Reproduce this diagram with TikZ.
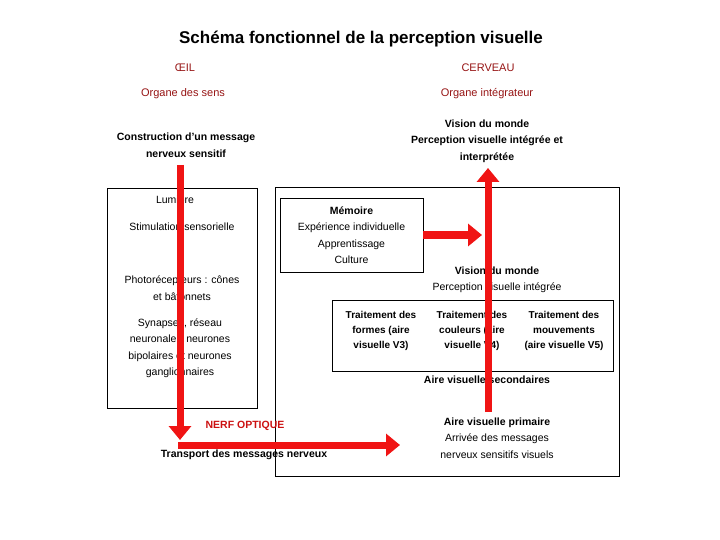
\documentclass[tikz,border=0pt]{standalone}
\usepackage{fontspec}
\setmainfont{Liberation Sans}
\usetikzlibrary{arrows.meta,positioning}
\definecolor{redarrow}{RGB}{240,20,20}
\definecolor{darkred}{RGB}{150,20,20}

\begin{document}
\begin{tikzpicture}[
    x=1pt, y=-1pt,
    txt/.style={align=center, font=\fontsize{10.5}{16.5}\selectfont},
    bold/.style={txt, font=\fontsize{10.5}{16.5}\selectfont\bfseries},
    head/.style={align=center, text=darkred, font=\fontsize{11}{15}\selectfont},
    frame/.style={draw, line width=0.8pt},
    bigarrow/.style={-{Triangle[width=22pt,length=14pt]}, line width=7pt, draw=redarrow}
]
    \useasboundingbox (0,0) rectangle (720,540);
    % titles
    \node[font=\fontsize{17}{20}\selectfont\bfseries] (title) at (361,39) {Schéma fonctionnel de la perception visuelle};
    \node[head] (oeil) at (185,68) {ŒIL};
    \node[head] (cerveau) at (488,68) {CERVEAU};
    \node[head] (sens) at (183,94) {Organe des sens};
    \node[head] (integr) at (487,94) {Organe intégrateur};
    \node[bold] (construct) at (186,145) {Construction d'un message\\nerveux sensitif};
    \node[bold] (vision) at (487,141) {Vision du monde\\Perception visuelle intégrée et\\interprétée};

    % boxes
    \draw[frame] (107,188) rectangle (257,408);
    \draw[frame] (275,187) rectangle (619,476);
    \node[frame, fill=white, minimum width=143pt, minimum height=74pt] (memoire) at (351.5,235) {};
    \node[frame, minimum width=281pt, minimum height=71pt] (traitement) at (472.5,335.5) {};

    % eye texts
    \node[txt] (lumiere) at (175,200) {Lumière};
    \node[txt] (stimul) at (182,227) {Stimulation sensorielle};
    \node[txt] (photo) at (182,288) {Photorécepteurs : cônes\\et bâtonnets};
    \node[txt] (synapses) at (180,348) {Synapses, réseau\\neuronale : neurones\\bipolaires et neurones\\ganglionnaires};

    % brain texts
    \node[txt] (memtxt) at (memoire) {\textbf{Mémoire}\\Expérience individuelle\\Apprentissage\\Culture};
    \node[txt] (monde) at (497,280) {\textbf{Vision du monde}\\Perception visuelle intégrée};
    \node[bold, font=\fontsize{10}{15}\selectfont\bfseries] (formes) at (381,331) {Traitement des\\formes (aire\\visuelle V3)};
    \node[bold, font=\fontsize{10}{15}\selectfont\bfseries] (couleurs) at (472,331) {Traitement des\\couleurs (aire\\visuelle V4)};
    \node[bold, font=\fontsize{10}{15}\selectfont\bfseries] (mouvements) at (564,331) {Traitement des\\mouvements\\(aire visuelle V5)};
    \node[bold] (secondaires) at (487,380) {Aire visuelle secondaires};
    \node[txt] (primaire) at (497,438) {\textbf{Aire visuelle primaire}\\Arrivée des messages\\nerveux sensitifs visuels};
    \node[bold] (nerf) at (245,426) {\textcolor{redarrow!85!black}{NERF OPTIQUE}};
    \node[bold] (transport) at (244,455) {Transport des messages nerveux};

    % arrows
    \coordinate (eyetop) at (180,165);
    \coordinate (eyebot) at (180,440);
    \coordinate (nervestart) at (178,445);
    \coordinate (nerveend) at (400,445);
    \coordinate (brainbot) at (488,412);
    \coordinate (braintop) at (488,168);
    \coordinate (memend) at (482,235);
    \draw[bigarrow] (eyetop) -- (eyebot);
    \draw[bigarrow] (nervestart) -- (nerveend);
    \draw[bigarrow] (brainbot) -- (braintop);
    \draw[bigarrow] (memoire.east) -- (memend);
\end{tikzpicture}
\end{document}
